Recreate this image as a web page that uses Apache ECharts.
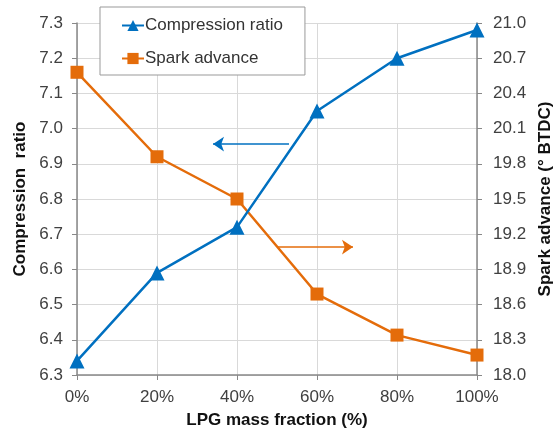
<!DOCTYPE html>
<html>
<head>
<meta charset="utf-8">
<script src="https://cdn.jsdelivr.net/npm/echarts@6/dist/echarts.min.js"></script>
<style>html,body{margin:0;padding:0;background:#fff}#c{width:555px;height:433px}</style>
</head>
<body>
<div id="c"></div>
<script>
const lpgFraction = [0, 20, 40, 60, 80, 100];
const compressionRatio = [6.34, 6.59, 6.72, 7.05, 7.20, 7.28];
const sparkAdvance = [20.58, 19.86, 19.50, 18.69, 18.34, 18.17];
const blueArrow = { y: 6.956, from: 53, to: 34 };
const orangeArrow = { y: 19.09, from: 50, to: 69 };

const blue = '#0070C0', orange = '#E46C0A';
const font = 'Liberation Sans, Arial, sans-serif';
const chart = echarts.init(document.getElementById('c'));
const lbl = { color: '#404040', fontSize: 17, fontFamily: font };
const nm = { color: '#111', fontSize: 17, fontWeight: 'bold', fontFamily: font };
chart.setOption({
  animation: false,
  grid: { left: 77, right: 78, top: 23, bottom: 58, containLabel: false, outerBoundsMode: 'none' },
  legend: {
    left: 100, top: 7, orient: 'vertical',
    backgroundColor: '#fff', borderColor: '#999', borderWidth: 1,
    padding: [10, 22, 8, 21], itemGap: 16, itemWidth: 22, itemHeight: 14,
    textStyle: { color: '#333', fontSize: 17, fontFamily: font, padding: [0, 0, 0, -4] },
    data: ['Compression ratio', 'Spark advance']
  },
  xAxis: {
    type: 'value', min: 0, max: 100, interval: 20,
    name: 'LPG mass fraction (%)', nameLocation: 'middle', nameGap: 37, nameTextStyle: nm,
    axisLine: { lineStyle: { color: '#888', width: 1.5 } },
    axisTick: { show: true, length: 5, lineStyle: { color: '#888' } },
    axisLabel: Object.assign({ formatter: v => v + '%', margin: 14 }, lbl),
    splitLine: { show: true, lineStyle: { color: '#d9d9d9' } }
  },
  yAxis: [{
    type: 'value', min: 6.3, max: 7.3, interval: 0.1, position: 'left',
    name: 'Compression  ratio', nameLocation: 'middle', nameGap: 48, nameTextStyle: nm,
    axisLine: { show: true, lineStyle: { color: '#888', width: 1.5 } },
    axisTick: { show: true, length: 5, lineStyle: { color: '#888' } },
    axisLabel: Object.assign({ formatter: v => v.toFixed(1), margin: 14 }, lbl),
    splitLine: { show: true, lineStyle: { color: '#d9d9d9' } }
  }, {
    type: 'value', min: 18, max: 21, interval: 0.3, position: 'right',
    name: 'Spark advance (° BTDC)', nameLocation: 'middle', nameGap: 59, nameTextStyle: nm,
    axisLine: { show: true, lineStyle: { color: '#888', width: 1.5 } },
    axisTick: { show: true, length: 5, lineStyle: { color: '#888' } },
    axisLabel: Object.assign({ formatter: v => v.toFixed(1), margin: 16 }, lbl),
    splitLine: { show: false }
  }],
  series: [{
    name: 'Compression ratio', type: 'line', yAxisIndex: 0, z: 3,
    data: lpgFraction.map((x, i) => [x, compressionRatio[i]]),
    symbol: 'triangle', symbolSize: 15,
    lineStyle: { color: blue, width: 2.5 }, itemStyle: { color: blue },
    markLine: {
      silent: true, symbol: ['none', 'arrow'], symbolSize: 11,
      label: { show: false },
      lineStyle: { color: blue, width: 1.5, type: 'solid' },
      data: [[{ coord: [blueArrow.from, blueArrow.y] }, { coord: [blueArrow.to, blueArrow.y] }]]
    }
  }, {
    name: 'Spark advance', type: 'line', yAxisIndex: 1, z: 2,
    data: lpgFraction.map((x, i) => [x, sparkAdvance[i]]),
    symbol: 'rect', symbolSize: 13,
    lineStyle: { color: orange, width: 2.5 }, itemStyle: { color: orange },
    markLine: {
      silent: true, symbol: ['none', 'arrow'], symbolSize: 11,
      label: { show: false },
      lineStyle: { color: orange, width: 1.5, type: 'solid' },
      data: [[{ coord: [orangeArrow.from, orangeArrow.y] }, { coord: [orangeArrow.to, orangeArrow.y] }]]
    }
  }]
});
</script>
</body>
</html>
